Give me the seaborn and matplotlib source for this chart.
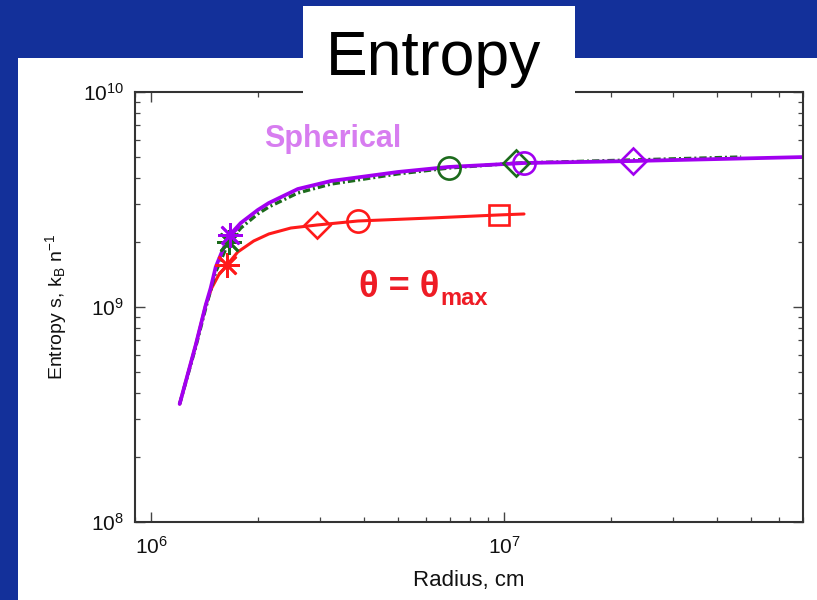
import matplotlib
matplotlib.use("Agg")
import matplotlib.pyplot as plt
from matplotlib.patches import Rectangle
import pandas as pd
import seaborn as sns

# Spherical run (purple)
sph_r = [1.204e6, 1.337e6, 1.427e6, 1.474e6, 1.523e6, 1.594e6, 1.669e6, 1.793e6,
         2.003e6, 2.153e6, 2.600e6, 3.225e6, 4.993e6, 6.917e6, 1.136e7, 2.312e7, 7.3e7]
sph_s = [3.54e8, 6.66e8, 1.022e9, 1.226e9, 1.535e9, 1.842e9, 2.162e9, 2.459e9,
         2.826e9, 3.046e9, 3.538e9, 3.855e9, 4.246e9, 4.479e9, 4.674e9, 4.775e9, 4.99e9]
sph_mk_r = [1.669e6, 1.136e7, 2.312e7]
sph_mk_s = [2.162e9, 4.674e9, 4.775e9]

# Intermediate angle run (green, dash-dot)
mid_r = [1.204e6, 1.337e6, 1.427e6, 1.523e6, 1.594e6, 1.658e6, 1.793e6, 2.003e6,
         2.153e6, 2.600e6, 3.225e6, 4.993e6, 6.963e6, 1.078e7, 2.312e7, 4.677e7]
mid_s = [3.54e8, 6.52e8, 9.89e8, 1.455e9, 1.726e9, 2.005e9, 2.328e9, 2.71e9,
         2.92e9, 3.39e9, 3.73e9, 4.16e9, 4.43e9, 4.67e9, 4.83e9, 4.985e9]
mid_mk_r = [1.658e6, 6.963e6, 1.078e7]
mid_mk_s = [2.005e9, 4.43e9, 4.67e9]

# theta = theta_max run (red)
max_r = [1.204e6, 1.337e6, 1.427e6, 1.484e6, 1.553e6, 1.637e6, 1.758e6, 1.951e6,
         2.153e6, 2.485e6, 2.944e6, 3.846e6, 6.193e6, 9.647e6, 1.136e7]
max_s = [3.54e8, 6.66e8, 1.022e9, 1.226e9, 1.409e9, 1.565e9, 1.802e9, 2.028e9,
         2.186e9, 2.330e9, 2.406e9, 2.512e9, 2.594e9, 2.680e9, 2.708e9]
max_mk_r = [1.637e6, 2.944e6, 3.846e6, 9.647e6]
max_mk_s = [1.565e9, 2.406e9, 2.512e9, 2.680e9]

x_limits = (9.0e5, 7.0e7)
y_limits = (1e8, 1e10)

PURPLE = "#a100f0"
GREEN = "#1c6b1c"
RED = "#ff1a1a"
BLUE_BG = "#13309a"
ASTERISK = (8, 2, 0)

sns.set_style("white")
plt.rcParams["font.family"] = ["Liberation Sans", "DejaVu Sans"]
plt.rcParams["mathtext.fontset"] = "custom"
plt.rcParams["mathtext.rm"] = "Liberation Sans"
plt.rcParams["mathtext.it"] = "Liberation Sans:italic"
plt.rcParams["mathtext.bf"] = "Liberation Sans:bold"
plt.rcParams["mathtext.default"] = "regular"

W, H = 817, 600
fig = plt.figure(figsize=(W / 100, H / 100), dpi=100)
fig.patch.set_facecolor(BLUE_BG)

# white slide panel
fig.add_artist(Rectangle((18 / W, 0), 1 - 18 / W, 1 - 58 / H, transform=fig.transFigure,
                         facecolor="white", edgecolor="none", zorder=-5))

ax = fig.add_axes([135 / W, 1 - 522 / H, (803 - 135) / W, (522 - 92) / H])
ax.set_facecolor("white")
ax.set_xscale("log")
ax.set_yscale("log")

df_max = pd.DataFrame({"r": max_r, "s": max_s})
df_mid = pd.DataFrame({"r": mid_r, "s": mid_s})
df_sph = pd.DataFrame({"r": sph_r, "s": sph_s})

sns.lineplot(data=df_max, x="r", y="s", ax=ax, color=RED, lw=2.2, sort=False,
             estimator=None)
sns.lineplot(data=df_mid, x="r", y="s", ax=ax, color=GREEN, lw=2.4, sort=False,
             estimator=None, linestyle=(0, (2.2, 0.9, 0.6, 0.9)))
sns.lineplot(data=df_sph, x="r", y="s", ax=ax, color=PURPLE, lw=2.7, sort=False,
             estimator=None)

mk_kw = dict(linestyle="none", markerfacecolor="none", markeredgewidth=1.9)
for r, s, col, shapes in [
    (max_mk_r, max_mk_s, RED, [ASTERISK, "D", "o", "s"]),
    (mid_mk_r, mid_mk_s, GREEN, [ASTERISK, "o", "D"]),
    (sph_mk_r, sph_mk_s, PURPLE, [ASTERISK, "o", "D"]),
]:
    for xi, yi, m in zip(r, s, shapes):
        size = {"D": 13, "o": 16, "s": 15}.get(m, 18)
        ax.plot([xi], [yi], marker=m, color=col, markeredgecolor=col,
                markersize=size, **mk_kw)

ax.set_xlim(*x_limits)
ax.set_ylim(*y_limits)

for sp in ax.spines.values():
    sp.set_color("#333333")
    sp.set_linewidth(1.5)
ax.tick_params(which="both", direction="in", top=True, right=True, bottom=True,
               left=True, color="#444444", labelsize=15, labelcolor="#111111")
ax.tick_params(which="major", length=7, width=1.0, pad=8)
ax.tick_params(axis="x", which="major", pad=10)
ax.tick_params(which="minor", length=3.5, width=0.9)
ax.set_xticks([1e6, 1e7])

ax.set_xlabel("Radius, cm", fontsize=16, color="#111111", labelpad=9)
ax.set_ylabel(r"Entropy s, k$_\mathregular{B}$ n$^\mathregular{-1}$", fontsize=14,
              color="#111111", labelpad=10)

ax.text(2.083e6, 5.55e9, "Spherical", color="#d77df0", fontsize=22,
        fontweight="bold", va="baseline", ha="left")
t1 = ax.text(3.87e6, 1.113e9, "θ = θ", color="#ee1c25", fontsize=26,
             fontweight="bold", va="baseline", ha="left")
ax.annotate("max", xy=(1.0, 0.0), xycoords=t1, xytext=(1, 0),
            textcoords="offset points", ha="left", va="baseline",
            color="#ee1c25", fontsize=17, fontweight="bold")

# title box over the top of the frame
fig.add_artist(Rectangle((303 / W, 1 - 104 / H), (575 - 303) / W, (104 - 6) / H,
                         transform=fig.transFigure, facecolor="white",
                         edgecolor="none", zorder=5))
fig.text(434 / W, 1 - 75 / H, "Entropy", fontsize=45, color="black",
         ha="center", va="baseline", zorder=6)

fig.savefig("out.png", dpi=100, facecolor=fig.get_facecolor())
